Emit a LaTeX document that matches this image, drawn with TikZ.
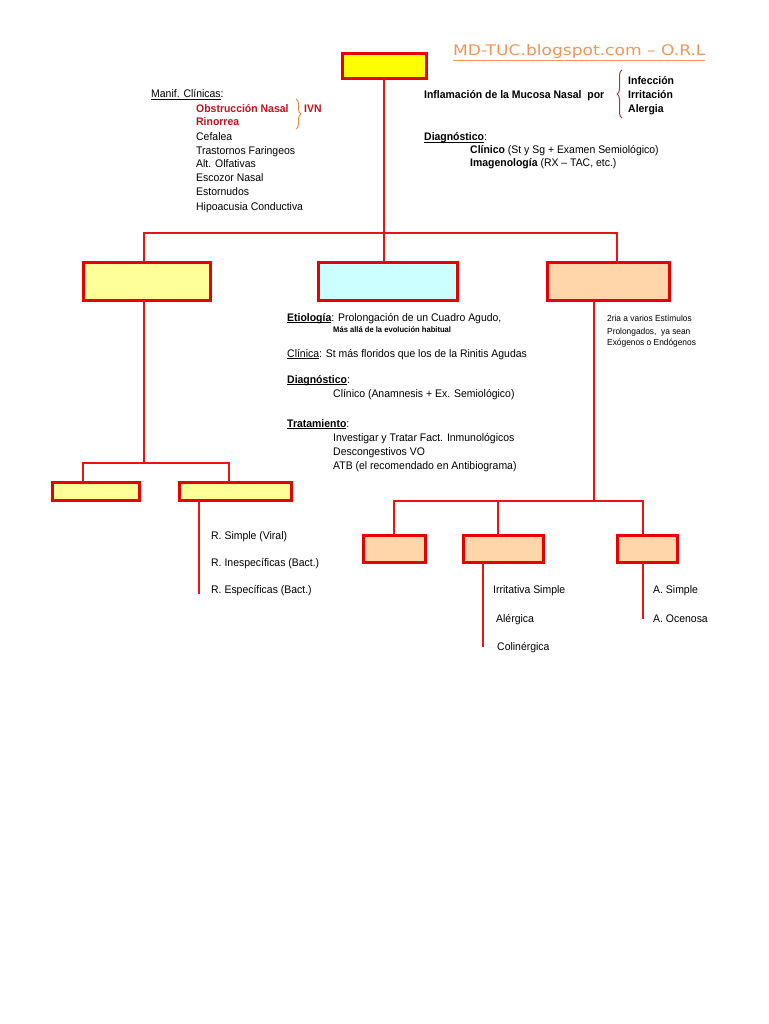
\documentclass[tikz,border=0pt]{standalone}
\usepackage{fontspec}
\setmainfont{Liberation Sans}[FakeStretch=0.95]
\newfontfamily\wmfont{DejaVu Sans}
\usetikzlibrary{decorations.pathreplacing}
\newcommand\uln[1]{\setbox0\hbox{#1}\rlap{\rule[-1.6pt]{\wd0}{0.6pt}}\box0}
\definecolor{lnred}{RGB}{232,20,20}
\definecolor{bxred}{RGB}{230,0,0}
\definecolor{yel}{RGB}{255,255,0}
\definecolor{lyel}{RGB}{255,255,153}
\definecolor{lcyan}{RGB}{204,255,255}
\definecolor{peach}{RGB}{255,214,170}
\definecolor{wmorange}{RGB}{240,150,90}
\definecolor{dred}{RGB}{190,20,30}
\definecolor{braceor}{RGB}{230,140,60}
\definecolor{bracered}{RGB}{180,50,60}
\tikzset{
  ln/.style={draw=lnred, line width=2pt},
  bx/.style={draw=bxred, line width=3pt, rectangle, inner sep=0pt, outer sep=0pt},
  txt/.style={anchor=base west, inner sep=0pt, font=\fontsize{11}{13}\selectfont},
  btxt/.style={txt, font=\fontsize{11}{13}\selectfont\bfseries},
  rtxt/.style={btxt, text=dred},
  small/.style={anchor=base west, inner sep=0pt, font=\fontsize{8.8}{10}\selectfont},
  brc/.style={decorate, decoration={brace, amplitude=5pt}, line width=1pt}
}
\begin{document}
\begin{tikzpicture}[x=1pt,y=-1pt]
\useasboundingbox (0,0) rectangle (768,1024);
\fill[white] (0,0) rectangle (768,1024);

% watermark
\node[anchor=base west, inner sep=0pt, text=wmorange, font=\fontsize{14.6}{16}\wmfont] (wm) at (453,56)
  {\scalebox{1.17}[1]{\underline{MD-TUC.blogspot.com – O.R.L}}};

% boxes
\node[bx, fill=yel, minimum width=84, minimum height=25] (top) at (384,66.5) {};
\node[bx, fill=lyel, minimum width=127, minimum height=38] (L1) at (146.5,281) {};
\node[bx, fill=lcyan, minimum width=139, minimum height=38] (M1) at (387.5,281) {};
\node[bx, fill=peach, minimum width=122, minimum height=38] (R1) at (608,281) {};
\node[bx, fill=lyel, minimum width=87, minimum height=18] (L2a) at (95.5,491) {};
\node[bx, fill=lyel, minimum width=112, minimum height=18] (L2b) at (235,491) {};
\node[bx, fill=peach, minimum width=62, minimum height=27] (R2a) at (394,548.5) {};
\node[bx, fill=peach, minimum width=80, minimum height=27] (R2b) at (503,548.5) {};
\node[bx, fill=peach, minimum width=60, minimum height=27] (R2c) at (647,548.5) {};

% connectors
\coordinate (j1) at (384,233);
\coordinate (j2) at (144,463);
\coordinate (j3) at (594,501);
\coordinate (e1) at (199,594);
\coordinate (e2) at (483,647);
\coordinate (e3) at (643,619);
\draw[ln] (top.south) -- (j1);
\draw[ln] ([xshift=-2.5pt]L1.north) |- (j1) -| ([xshift=8.5pt]R1.north);
\draw[ln] (j1) -- (j1 |- M1.north);
\draw[ln] (L1.south -| j2) -- (j2);
\draw[ln] ([xshift=-12.5pt]L2a.north) |- (j2) -| ([xshift=-6pt]L2b.north);
\draw[ln] (L2b.south -| e1) -- (e1);
\draw[ln] (R1.south -| j3) -- (j3);
\draw[ln] (R2a.north) |- (j3) -| ([xshift=-4pt]R2c.north);
\draw[ln] ([xshift=-5pt]R2b.north) -- ([xshift=-5pt]R2b.north |- j3);
\draw[ln] (R2b.south -| e2) -- (e2);
\draw[ln] (R2c.south -| e3) -- (e3);

% left upper text
\node[txt] (mc) at (151,98) {\uln{Manif. Clínicas}:};
\node[rtxt] (ob) at (196,113) {Obstrucción Nasal};
\node[rtxt] (ri) at (196,126) {Rinorrea};
\node[rtxt] (ivn) at (304,113) {IVN};
\coordinate (b1t) at (296,99);
\coordinate (b1b) at (296,129);
\draw[brc, draw=braceor] (b1t) -- (b1b);
\node[txt] (c1) at (196,141) {Cefalea};
\node[txt] (c2) at (196,155) {Trastornos Faringeos};
\node[txt] (c3) at (196,168) {Alt. Olfativas};
\node[txt] (c4) at (196,182) {Escozor Nasal};
\node[txt] (c5) at (196,196) {Estornudos};
\node[txt] (c6) at (196,211) {Hipoacusia Conductiva};

% right upper text
\node[btxt] (inf) at (424,99) {Inflamación de la Mucosa Nasal\ \ por};
\coordinate (b2b) at (622,118);
\coordinate (b2t) at (622,70);
\draw[brc, draw=bracered] (b2b) -- (b2t);
\node[btxt] (i1) at (628,85) {Infección};
\node[btxt] (i2) at (628,99) {Irritación};
\node[btxt] (i3) at (628,113) {Alergia};
\node[btxt] (dg) at (424,141) {\uln{Diagnóstico}\mdseries:};
\node[txt] (dg1) at (470,154) {\textbf{Clínico} (St y Sg + Examen Semiológico)};
\node[txt] (dg2) at (470,167) {\textbf{Imagenología} (RX – TAC, etc.)};

% middle text
\node[txt] (et) at (287,321) {\uln{\textbf{Etiología}}: Prolongación de un Cuadro Agudo,};
\node[anchor=base west, inner sep=0pt, font=\fontsize{8}{9}\selectfont\bfseries] (et2) at (333,332) {Más allá de la evolución habitual};
\node[txt] (cl) at (287,357) {\uln{Clínica}: St más floridos que los de la Rinitis Agudas};
\node[txt] (dm) at (287,383) {\uln{\textbf{Diagnóstico}}:};
\node[txt] (dm1) at (333,397) {Clínico (Anamnesis + Ex. Semiológico)};
\node[txt] (tr) at (287,427) {\uln{\textbf{Tratamiento}}:};
\node[txt] (tr1) at (333,441) {Investigar y Tratar Fact. Inmunológicos};
\node[txt] (tr2) at (333,455) {Descongestivos VO};
\node[txt] (tr3) at (333,469) {ATB (el recomendado en Antibiograma)};

% right small text
\node[small] (s1) at (607,321) {2ria a varios Estímulos};
\node[small] (s2) at (607,334) {Prolongados,\ \ ya sean};
\node[small] (s3) at (607,345) {Exógenos o Endógenos};

% tree labels
\node[txt] (r1) at (211,539) {R. Simple (Viral)};
\node[txt] (r2) at (211,566) {R. Inespecíficas (Bact.)};
\node[txt] (r3) at (211,593) {R. Específicas (Bact.)};
\node[txt] (a1) at (493,593) {Irritativa Simple};
\node[txt] (a2) at (496,622) {Alérgica};
\node[txt] (a3) at (497,650) {Colinérgica};
\node[txt] (o1) at (653,593) {A. Simple};
\node[txt] (o2) at (653,622) {A. Ocenosa};
\end{tikzpicture}
\end{document}
